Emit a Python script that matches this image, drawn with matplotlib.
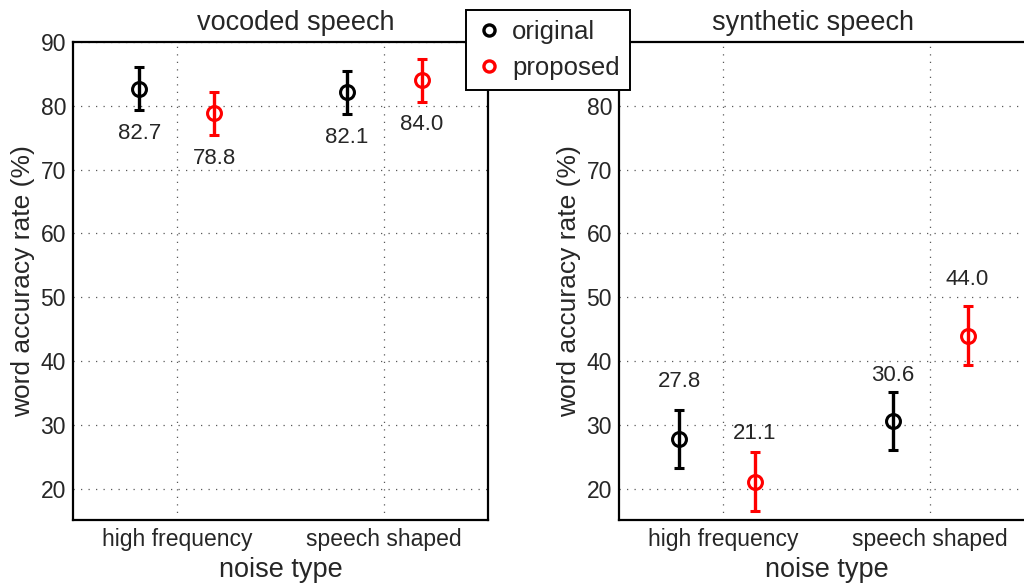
import matplotlib.pyplot as plt
from matplotlib.lines import Line2D

plt.rcParams['font.family'] = ['Liberation Sans', 'DejaVu Sans']

noise_types = ['high frequency', 'speech shaped']
panels = ['vocoded speech', 'synthetic speech']

# word accuracy rate (%) per panel, per noise type
vocoded_original = [82.7, 82.1]
vocoded_proposed = [78.8, 84.0]
vocoded_err = [3.4, 3.4]

synthetic_original = [27.8, 30.6]
synthetic_proposed = [21.1, 44.0]
synthetic_err = [4.6, 4.6]

text_col = '#262626'

fig = plt.figure(figsize=(10.24, 5.86), dpi=100)
ax1 = fig.add_axes([73/1024, 1 - 520/586, 415/1024, 478/586])
ax2 = fig.add_axes([619/1024, 1 - 520/586, 415/1024, 478/586])

# (axes, title, original, proposed, err, x-offset orig, x-offset prop,
#  label offset orig, label offset prop, title x, y ticks)
setups = [
    (ax1, panels[0], vocoded_original, vocoded_proposed, vocoded_err,
     [-0.18, -0.18], [0.18, 0.18], [-7, -7], [-7, -7], 0.537, range(20, 91, 10)),
    (ax2, panels[1], synthetic_original, synthetic_proposed, synthetic_err,
     [-0.21, -0.18], [0.155, 0.18], [9.0, 7.2], [7.6, 8.8], 0.467, range(20, 81, 10)),
]

for ax, title, orig, prop, err, off_o, off_p, lo_o, lo_p, tx, yt in setups:
    for i in range(len(noise_types)):
        xo = i + 1 + off_o[i]
        xp = i + 1 + off_p[i]
        ax.errorbar(xo, orig[i], yerr=err[i], fmt='o', color='black',
                    mfc='none', mec='black', ms=10, mew=2.2, elinewidth=2.4,
                    capsize=3.5, capthick=2.4, zorder=3)
        ax.errorbar(xp, prop[i], yerr=err[i], fmt='o', color='red',
                    mfc='none', mec='red', ms=10, mew=2.2, elinewidth=2.4,
                    capsize=3.5, capthick=2.4, zorder=3)
        ax.text(xo, orig[i] + lo_o[i], f'{orig[i]:.1f}', ha='center',
                va='center', fontsize=16, color=text_col)
        ax.text(xp, prop[i] + lo_p[i], f'{prop[i]:.1f}', ha='center',
                va='center', fontsize=16, color=text_col)

    ax.set_xlim(0.5, 2.5)
    ax.set_ylim(15.1, 90)
    ax.set_xticks([1, 2])
    ax.set_xticklabels(noise_types)
    ax.set_yticks(list(yt))
    ax.tick_params(length=0, labelsize=16.5, labelcolor=text_col, pad=5)
    ax.tick_params(axis='x', pad=6)
    ax.grid(True, linestyle=(0, (1, 5)), linewidth=0.9, color='0.35')
    ax.set_axisbelow(True)
    for s in ax.spines.values():
        s.set_linewidth(1.6)
        s.set_color('black')
    ax.set_xlabel('noise type', fontsize=19.5, color=text_col, labelpad=4)
    ax.set_ylabel('word accuracy rate (%)', fontsize=19, color=text_col, labelpad=4)
    ax.set_title(title, fontsize=19.5, color=text_col, pad=9, x=tx)

handles = [
    Line2D([], [], marker='o', linestyle='none', mfc='none', mec='black', ms=8, mew=2.4),
    Line2D([], [], marker='o', linestyle='none', mfc='none', mec='red', ms=8, mew=2.4),
]
leg = fig.legend(handles, ['original', 'proposed'], loc='upper left',
                 bbox_to_anchor=(466/1024, 1 - 10/586), fontsize=18.5,
                 frameon=True, fancybox=False, framealpha=1, edgecolor='black',
                 borderaxespad=0, handlelength=1.0, handletextpad=0.4,
                 borderpad=0.4, labelspacing=0.45, labelcolor=text_col)
leg.get_frame().set_linewidth(1.4)

fig.savefig('out.png', dpi=100)
